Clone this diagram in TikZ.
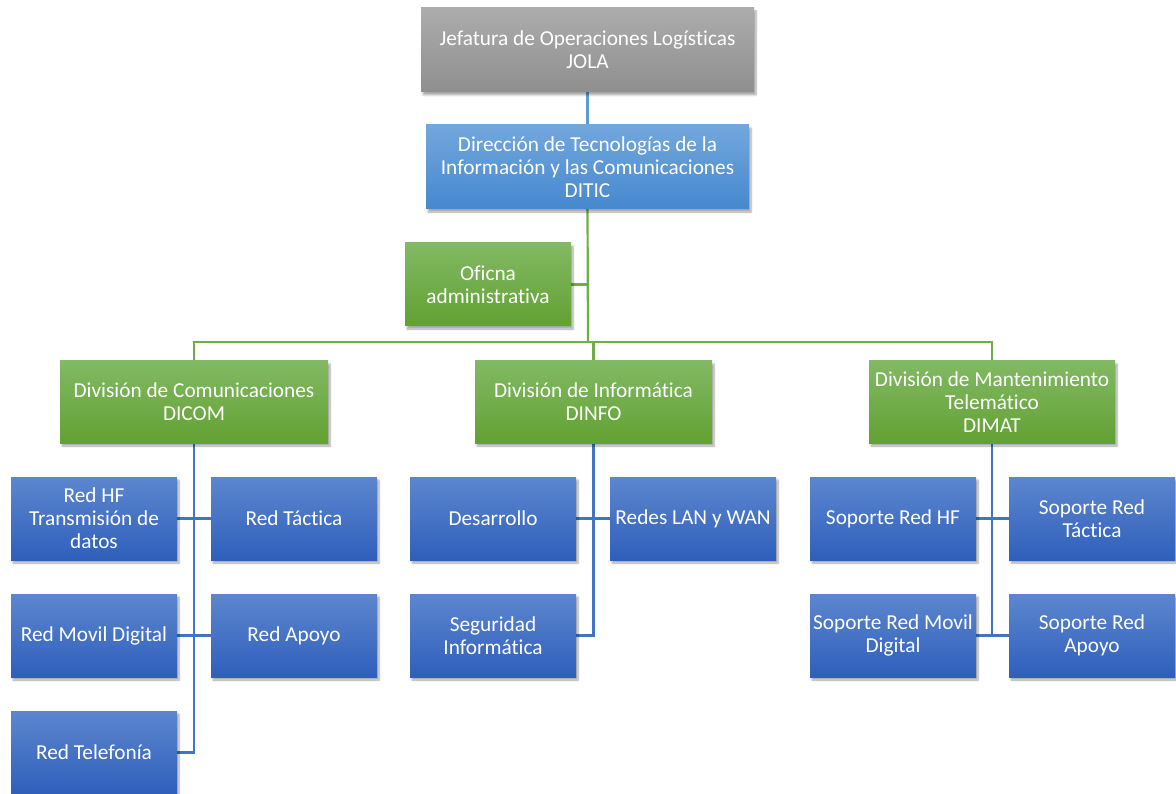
\documentclass[tikz,border=0pt]{standalone}
\usepackage{fontspec}
\setmainfont[Ligatures=NoCommon]{Carlito}
\usetikzlibrary{shadows,shadows.blur,backgrounds}

\definecolor{gTop}{HTML}{ACACAC}
\definecolor{gBot}{HTML}{8F8F8F}
\definecolor{lbTop}{HTML}{72A7DD}
\definecolor{lbBot}{HTML}{4688CE}
\definecolor{grTop}{HTML}{82B963}
\definecolor{grBot}{HTML}{62A133}
\definecolor{bTop}{HTML}{5C86CE}
\definecolor{bBot}{HTML}{2F5FBB}
\definecolor{lineBlue}{HTML}{4472C4}
\definecolor{lineLight}{HTML}{5B9BD5}
\definecolor{lineGreen}{HTML}{70AD47}

\tikzset{
  orgbox/.style={rectangle, draw=none, text=white, align=center,
    font=\fontsize{21.3}{23}\selectfont, inner sep=1pt,
    blur shadow={shadow blur steps=6, shadow xshift=2pt, shadow yshift=-3pt, shadow opacity=35, shadow blur extra rounding=0pt}},
  greybox/.style={orgbox, top color=gTop, bottom color=gBot},
  lightbox/.style={orgbox, top color=lbTop, bottom color=lbBot},
  greenbox/.style={orgbox, top color=grTop, bottom color=grBot},
  bluebox/.style={orgbox, top color=bTop, bottom color=bBot,
    minimum width=166pt, minimum height=83pt},
  gline/.style={draw=lineGreen, line width=2.2pt},
  bline/.style={draw=lineBlue, line width=2.2pt},
  lline/.style={draw=lineLight, line width=2.2pt},
}

\begin{document}
\begin{tikzpicture}[x=1pt,y=-1pt]
\useasboundingbox (0,0) rectangle (1176,794);

\coordinate (bus) at (588,342);

% top level
\node[greybox, minimum width=333pt, minimum height=84pt] (jola) at (587.5,50)
  {Jefatura de Operaciones Logísticas\\JOLA};
\node[lightbox, minimum width=323pt, minimum height=84pt] (ditic) at (587.5,167)
  {Dirección de Tecnologías de la\\Información y las Comunicaciones\\DITIC};
\node[greenbox, minimum width=166pt, minimum height=83pt] (ofi) at (488,284.5)
  {Oficna\\administrativa};

% divisions
\node[greenbox, minimum width=268pt, minimum height=82pt] (dicom) at (194,402)
  {División de Comunicaciones\\DICOM};
\node[greenbox, minimum width=237pt, minimum height=82pt] (dinfo) at (593.5,402)
  {División de Informática\\DINFO};
\node[greenbox, minimum width=246pt, minimum height=82pt] (dimat) at (992,402)
  {División de Mantenimiento\\Telemático\\DIMAT};

% DICOM units
\node[bluebox] (redhf) at (94,518.5) {Red HF\\Transmisión de\\datos};
\node[bluebox] (redtac) at (294,518.5) {Red Táctica};
\node[bluebox] (redmov) at (94,635.5) {Red Movil Digital};
\node[bluebox] (redapo) at (294,635.5) {Red Apoyo};
\node[bluebox] (redtel) at (94,752.5) {Red Telefonía};

% DINFO units
\node[bluebox] (desa) at (493,518.5) {Desarrollo};
\node[bluebox] (lan) at (693,518.5) {Redes LAN y WAN};
\node[bluebox] (segu) at (493,635.5) {Seguridad\\Informática};

% DIMAT units
\node[bluebox] (shf) at (893,518.5) {Soporte Red HF};
\node[bluebox] (stac) at (1092,518.5) {Soporte Red\\Táctica};
\node[bluebox] (smov) at (893,635.5) {Soporte Red Movil\\Digital};
\node[bluebox] (sapo) at (1092,635.5) {Soporte Red\\Apoyo};

% connectors, kept behind the boxes
\begin{pgfonlayer}{background}
  \draw[lline] (jola.south) -- (ditic.north);
  \draw[gline] (ditic.south) -- (bus);
  \draw[gline] (ofi.east) -- (ofi.east -| bus);
  \draw[gline] (dicom.north) |- (bus) -| (dimat.north);
  \draw[gline] (dinfo.north) -- (dinfo.north |- bus);

  \draw[bline] (dicom.south) |- (redtel.east);
  \draw[bline] (redhf.east) -- (redtac.west);
  \draw[bline] (redmov.east) -- (redapo.west);

  \draw[bline] (dinfo.south) |- (segu.east);
  \draw[bline] (desa.east) -- (lan.west);

  \draw[bline] (dimat.south) -- (dimat.south |- smov.east);
  \draw[bline] (shf.east) -- (stac.west);
  \draw[bline] (smov.east) -- (sapo.west);
\end{pgfonlayer}
\end{tikzpicture}
\end{document}
